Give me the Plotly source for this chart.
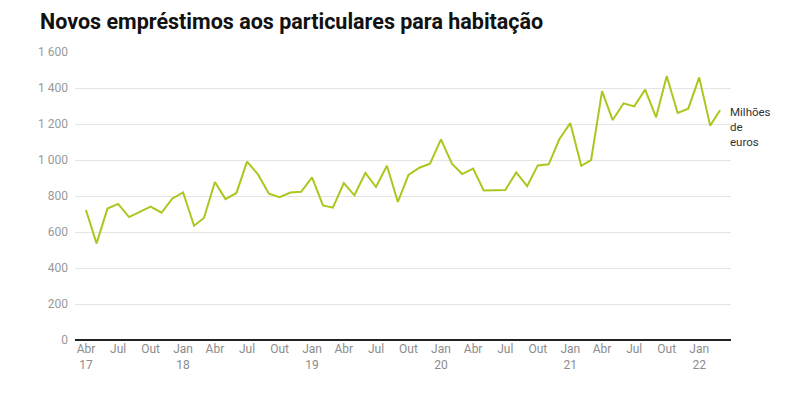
import plotly.graph_objects as go
import pandas as pd

months = pd.date_range("2017-04-01", "2022-03-01", freq="MS")
values = [722, 537, 730, 756, 683, 711, 741, 707, 785, 820, 635, 678,
          878, 783, 817, 991, 920, 813, 793, 819, 823, 904, 748, 735,
          872, 804, 928, 850, 968, 767, 917, 957, 980, 1115, 980, 922,
          952, 831, 831, 833, 931, 855, 970, 976, 1115, 1205, 968, 1000,
          1383, 1222, 1315, 1298, 1391, 1237, 1467, 1261, 1285, 1459, 1191, 1276]

tick_dates = pd.date_range("2017-04-01", "2022-01-01", freq="3MS")
tick_labels = ["Abr<br>17", "Jul", "Out", "Jan<br>18", "Abr", "Jul", "Out",
               "Jan<br>19", "Abr", "Jul", "Out", "Jan<br>20", "Abr", "Jul", "Out",
               "Jan<br>21", "Abr", "Jul", "Out", "Jan<br>22"]
y_ticks = [0, 200, 400, 600, 800, 1000, 1200, 1400, 1600]
y_labels = ["0", "200", "400", "600", "800", "1 000", "1 200", "1 400", "1 600"]

# page body has an 8px margin, so the figure is 8px smaller and margins shifted
W, H = 796, 385
fig = go.Figure()
fig.add_trace(go.Scatter(x=months, y=values, mode="lines",
                         line=dict(color="#a8c81e", width=2),
                         hoverinfo="x+y", showlegend=False))

fig.add_annotation(x=1.0, xref="paper", y=values[-1], yref="y",
                   text="Milhões<br>de<br>euros", showarrow=False,
                   xanchor="left", yanchor="top", align="left",
                   xshift=-3, yshift=7,
                   font=dict(family="Roboto", size=11.5, color="#333333"))

fig.update_layout(
    width=W, height=H,
    margin=dict(l=67, r=73, t=44, b=53),
    paper_bgcolor="white", plot_bgcolor="white",
    font=dict(family="Roboto", size=12, color="#8c8c8c"),
    title=dict(text="<b>Novos empréstimos aos particulares para habitação</b>",
               x=32 / W, xanchor="left", y=1 - 13 / H, yanchor="middle",
               font=dict(family="Roboto", size=21.5, color="#111111")),
    xaxis=dict(range=["2017-03-01", "2022-04-01"], tickvals=tick_dates,
               ticktext=tick_labels, showgrid=False, showline=False,
               zeroline=False, ticks="", tickfont=dict(size=12, color="#8c8c8c")),
    yaxis=dict(range=[0, 1600], tickvals=y_ticks, ticktext=y_labels,
               showgrid=True, gridcolor="#e5e5e5", gridwidth=1,
               zeroline=True, zerolinecolor="#222222", zerolinewidth=1.5,
               ticks="", ticklabelstandoff=6,
               tickfont=dict(size=12, color="#999999")),
)

fig.write_html("out.html")
